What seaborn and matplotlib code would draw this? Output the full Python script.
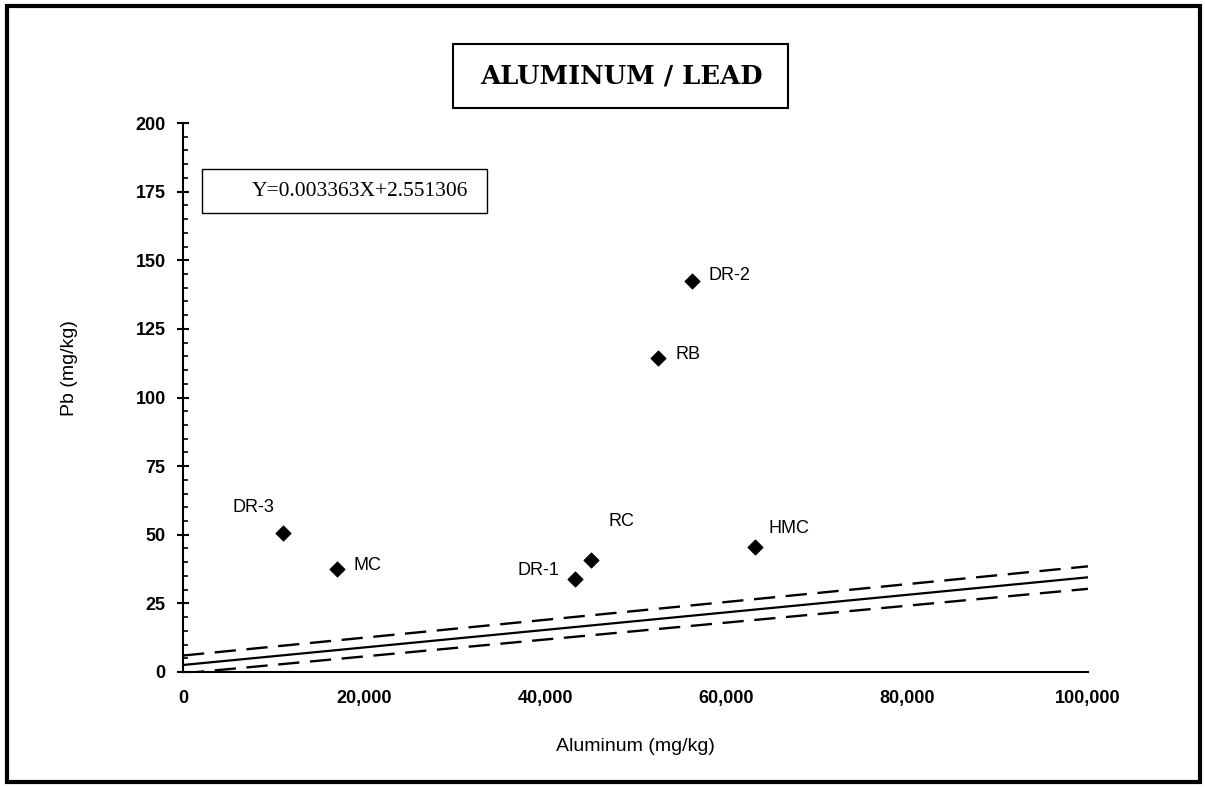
import matplotlib
matplotlib.use("Agg")
import matplotlib.pyplot as plt
import seaborn as sns
import pandas as pd
from matplotlib.patches import Rectangle
from matplotlib.ticker import MultipleLocator, FuncFormatter

# datos
sites = ["DR-3", "MC", "DR-1", "RC", "RB", "DR-2", "HMC"]
aluminum = [11000, 17000, 43300, 45100, 52500, 56200, 63200]
lead = [50.5, 37.5, 33.9, 40.9, 114.4, 142.5, 45.6]

line_x = [0, 100000]
fit_y = [2.55, 34.5]
upper_y = [6.0, 38.5]
lower_y = [-0.5, 30.3]

equation = "Y=0.003363X+2.551306"

# posicion de etiquetas (pixeles)
offsets = {"DR-3": (-29, 26, "center"), "MC": (17, 4, "left"), "DR-1": (-15, 8, "right"),
           "RC": (17, 38, "left"), "RB": (17, 3, "left"), "DR-2": (17, 5, "left"),
           "HMC": (14, 18, "left")}

sns.set_style("ticks")
plt.rcParams["font.family"] = ["Liberation Sans", "DejaVu Sans"]
plt.rcParams["text.color"] = "black"
plt.rcParams["axes.labelcolor"] = "black"
plt.rcParams["xtick.color"] = "black"
plt.rcParams["ytick.color"] = "black"
plt.rcParams["axes.edgecolor"] = "black"

df = pd.DataFrame({"site": sites, "al": aluminum, "pb": lead})
lines = pd.DataFrame({"x": line_x, "fit": fit_y, "up": upper_y, "low": lower_y})

W, H = 1205, 787
fig = plt.figure(figsize=(W / 100, H / 100), dpi=100)
ax = fig.add_axes([183 / W, 1 - 672 / H, (1088 - 183) / W, (672 - 123) / H])

sns.lineplot(data=lines, x="x", y="fit", color="black", lw=1.6, ax=ax)
sns.lineplot(data=lines, x="x", y="up", color="black", lw=1.7, ax=ax)
sns.lineplot(data=lines, x="x", y="low", color="black", lw=1.7, ax=ax)
for l in ax.lines[1:]:
    l.set_linestyle((0, (9, 4.5)))

sns.scatterplot(data=df, x="al", y="pb", marker="D", s=60, color="black",
                edgecolor="black", ax=ax, zorder=3)

for s, x, y in zip(sites, aluminum, lead):
    dx, dy, ha = offsets[s]
    ax.annotate(s, (x, y), xytext=(dx, dy), textcoords="offset pixels",
                ha=ha, va="center", fontsize=13)

ax.set_xlim(0, 100000)
ax.set_ylim(0, 200)
ax.yaxis.set_major_locator(MultipleLocator(25))
ax.yaxis.set_minor_locator(MultipleLocator(5))
ax.xaxis.set_major_locator(MultipleLocator(20000))
ax.xaxis.set_major_formatter(FuncFormatter(lambda v, p: f"{int(v):,}"))

sns.despine(ax=ax)
ax.spines["left"].set_linewidth(1.5)
ax.spines["bottom"].set_linewidth(1.5)
ax.tick_params(axis="y", which="major", direction="inout", length=9, width=1.5, pad=8)
ax.tick_params(axis="y", which="minor", direction="in", length=3.5, width=1.2)
ax.tick_params(axis="x", which="both", length=0, pad=13)
for t in ax.get_xticklabels() + ax.get_yticklabels():
    t.set_fontweight("bold")
    t.set_fontsize(13)

ax.set_xlabel("Aluminum (mg/kg)", fontsize=14)
ax.set_ylabel("Pb (mg/kg)", fontsize=14)
ax.xaxis.set_label_coords(0.5, -(738 - 672) / (672 - 123), transform=ax.transAxes)
ax.yaxis.set_label_coords(-(183 - 78) / (1088 - 183), (672 - 368) / (672 - 123))

# caja del titulo
fig.patches.append(Rectangle((453 / W, 1 - 108 / H), 335 / W, 64 / H, transform=fig.transFigure,
                             fill=False, lw=1.5, ec="black"))
fig.text(621 / W, 1 - 76 / H, "ALUMINUM / LEAD", ha="center", va="center",
         family="DejaVu Serif", weight="heavy", fontsize=18.5)

# caja de la ecuacion
fig.patches.append(Rectangle((202 / W, 1 - 213 / H), 285 / W, 44 / H, transform=fig.transFigure,
                             fill=False, lw=1.0, ec="black"))
fig.text(360 / W, 1 - 191 / H, equation, ha="center", va="center",
         family="Liberation Serif", fontsize=15.5)

# marco exterior
fig.patches.append(Rectangle((7 / W, 1 - 782 / H), 1193 / W, 776 / H, transform=fig.transFigure,
                             fill=False, lw=3, ec="black"))

fig.savefig("out.png", dpi=100)
plt.close()
